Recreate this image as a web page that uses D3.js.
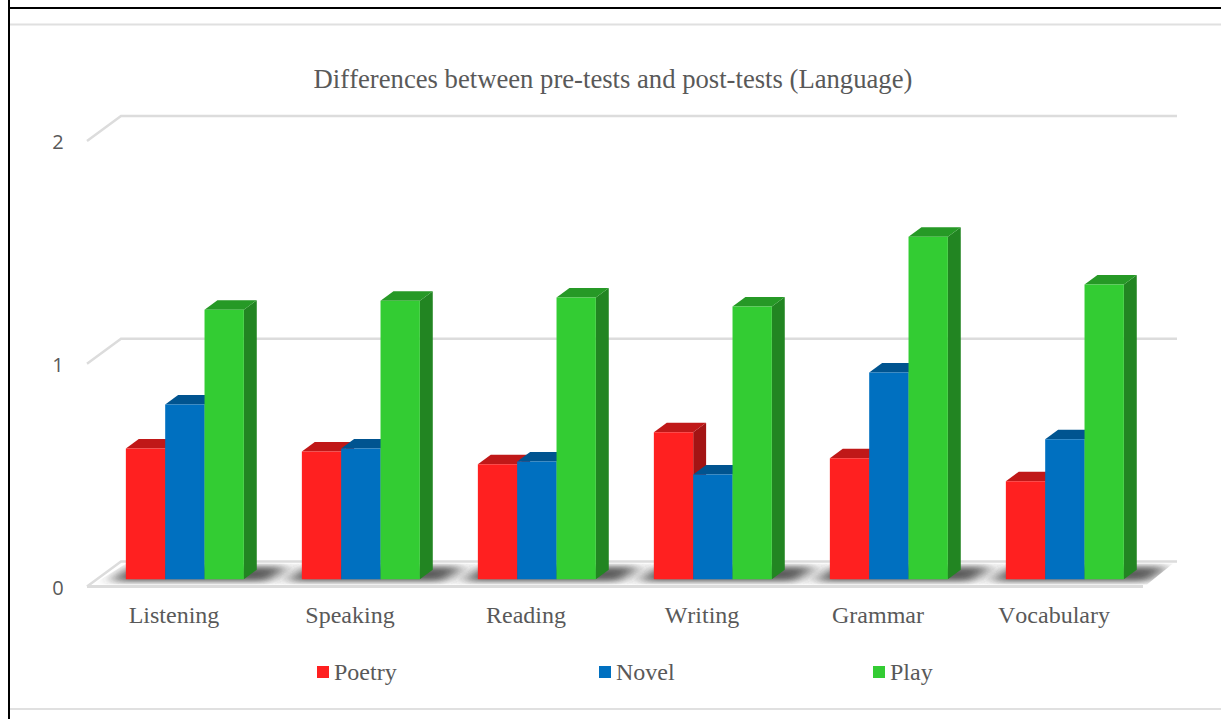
<!DOCTYPE html>
<html>
<head>
<meta charset="UTF-8">
<title>Differences between pre-tests and post-tests (Language)</title>
<script src="https://cdn.jsdelivr.net/npm/d3@7"></script>
<style>
html, body { margin: 0; padding: 0; background: #fff; }
svg { display: block; }
.serif { font-family: "Liberation Serif", serif; fill: #595959; font-kerning: none; }
</style>
</head>
<body>
<div id="plot"></div>
<script>

var skills = ["Listening", "Speaking", "Reading", "Writing", "Grammar", "Vocabulary"]
var poetry = [0.587, 0.574, 0.516, 0.660, 0.543, 0.440]
var novel  = [0.785, 0.587, 0.529, 0.470, 0.928, 0.628]
var play   = [1.210, 1.250, 1.265, 1.224, 1.538, 1.323]
var yTicks = [0, 1, 2]

var seriesNames  = ["Poetry", "Novel", "Play"]
var seriesValues = [poetry, novel, play]

// front, top and side shades per series
var shades = [
	{ front: "#ff2020", top: "#c01818", side: "#a31414" },
	{ front: "#0070c0", top: "#005490", side: "#004a80" },
	{ front: "#33cc33", top: "#269926", side: "#228522" }
]

var width  = 1221
var height = 719

// the floor runs from this front edge back by depthX, depthY
var depthX = 34
var depthY = -25

var x = d3.scaleBand().domain(skills).range([87, 1143])
var y = d3.scaleLinear().domain([0, 2]).range([586.5, 141])
var seriesX = d3.scaleBand().domain(seriesNames).range([-59, 59])

// depth: 0 = front of the floor, 1 = back wall
function px(xv, depth) { return xv + depth * depthX }
function py(yv, depth) { return yv + depth * depthY }

var barNear = 0.29
var barFar  = 0.67

var svg = d3.select("#plot").append("svg")
	.attr("width", width)
	.attr("height", height)

var defs = svg.append("defs")
defs.append("filter").attr("id", "floorBlur")
	.attr("x", "-40%").attr("y", "-150%").attr("width", "180%").attr("height", "400%")
	.append("feGaussianBlur").attr("stdDeviation", "8 3")

// page frame
svg.append("line").attr("x1", 9).attr("x2", width).attr("y1", 8).attr("y2", 8)
	.attr("stroke", "#000").attr("stroke-width", 2)
svg.append("line").attr("x1", 9).attr("x2", 9).attr("y1", 0).attr("y2", height)
	.attr("stroke", "#000").attr("stroke-width", 2)
svg.append("line").attr("x1", 10).attr("x2", width).attr("y1", 24.5).attr("y2", 24.5)
	.attr("stroke", "#e0e0e0").attr("stroke-width", 2)
svg.append("line").attr("x1", 10).attr("x2", width).attr("y1", 709).attr("y2", 709)
	.attr("stroke", "#e0e0e0").attr("stroke-width", 2)

svg.append("text").attr("class", "serif")
	.attr("x", 613).attr("y", 88)
	.attr("text-anchor", "middle")
	.attr("font-size", 26.67)
	.text("Differences between pre-tests and post-tests (Language)")

// gridlines: along the back wall, then down the side wall
var x0 = x.range()[0], x1 = x.range()[1]
var gridLine = d3.line()
svg.append("g").selectAll("path")
	.data(yTicks)
	.join("path")
	.attr("fill", "none")
	.attr("stroke", "#dcdcdc")
	.attr("stroke-width", 2.5)
	.attr("d", function(t) {
		return gridLine([
			[x0, y(t)],
			[px(x0, 1), py(y(t), 1)],
			[px(x1, 1), py(y(t), 1)]
		])
	})

// front edge of the floor
svg.append("path")
	.attr("fill", "none")
	.attr("stroke", "#dcdcdc")
	.attr("stroke-width", 3)
	.attr("d", gridLine([[x0, y(0)], [x1, y(0)]]))

// soft shadow under each group of bars
defs.append("clipPath").attr("id", "floorClip").append("path")
	.attr("d", gridLine([
		[x0 + 6, y(0) - 2],
		[x1 + 4, y(0) - 2],
		[px(x1, 1) - 4, py(y(0), 1) + 2],
		[px(x0, 1) + 5, py(y(0), 1) + 2]
	]) + "Z")

svg.append("g").attr("clip-path", "url(#floorClip)")
	.selectAll("path")
	.data(skills)
	.join("path")
	.attr("fill", "#333")
	.attr("fill-opacity", 0.8)
	.attr("filter", "url(#floorBlur)")
	.attr("d", function(s) {
		var cx = x(s) + x.bandwidth() / 2
		var l = cx - 72, r = cx + 86
		return gridLine([
			[px(l, 0.2), py(y(0), 0.2)],
			[px(r, 0.2), py(y(0), 0.2)],
			[px(r, 0.8), py(y(0), 0.8)],
			[px(l, 0.8), py(y(0), 0.8)]
		]) + "Z"
	})

// one 3D bar: side, top, then front so neighbours overlap correctly
var bars = svg.append("g")
skills.forEach(function(skill, i) {
	var cx = x(skill) + x.bandwidth() / 2
	seriesNames.forEach(function(name, k) {
		var shade = shades[k]
		var left  = cx + seriesX(name)
		var right = left + seriesX.bandwidth()
		var top   = y(seriesValues[k][i])
		var base  = y(0)
		var g = bars.append("g")

		g.append("path").attr("fill", shade.side)
			.attr("d", gridLine([
				[px(right, barNear), py(top, barNear)],
				[px(right, barFar),  py(top, barFar)],
				[px(right, barFar),  py(base, barFar)],
				[px(right, barNear), py(base, barNear)]
			]) + "Z")

		g.append("path").attr("fill", shade.top)
			.attr("d", gridLine([
				[px(left, barNear),  py(top, barNear)],
				[px(right, barNear), py(top, barNear)],
				[px(right, barFar),  py(top, barFar)],
				[px(left, barFar),   py(top, barFar)]
			]) + "Z")

		g.append("path").attr("fill", shade.front)
			.attr("d", gridLine([
				[px(left, barNear),  py(top, barNear)],
				[px(right, barNear), py(top, barNear)],
				[px(right, barNear), py(base, barNear)],
				[px(left, barNear),  py(base, barNear)]
			]) + "Z")
	})
})

// value axis labels
svg.append("g").selectAll("text")
	.data(yTicks)
	.join("text")
	.attr("x", 58)
	.attr("y", function(t) { return y(t) + 8 })
	.attr("text-anchor", "middle")
	.attr("fill", "#595959")
	.attr("font-family", "'Open Sans', sans-serif")
	.attr("font-size", 20)
	.text(function(t) { return t })

// category labels
svg.append("g").selectAll("text")
	.data(skills)
	.join("text")
	.attr("class", "serif")
	.attr("x", function(s) { return x(s) + x.bandwidth() / 2 - 1 })
	.attr("y", 623)
	.attr("text-anchor", "middle")
	.attr("font-size", 24)
	.text(function(s) { return s })

// legend
var legendX = d3.scaleOrdinal().domain(seriesNames).range([317, 599, 873])
var legend = svg.append("g").selectAll("g")
	.data(seriesNames)
	.join("g")
	.attr("transform", function(n) { return "translate(" + legendX(n) + ",666)" })

legend.append("rect")
	.attr("width", 12).attr("height", 12)
	.attr("fill", function(n, i) { return shades[i].front })

legend.append("text").attr("class", "serif")
	.attr("x", 17).attr("y", 14)
	.attr("font-size", 24)
	.text(function(n) { return n })

</script>
</body>
</html>
